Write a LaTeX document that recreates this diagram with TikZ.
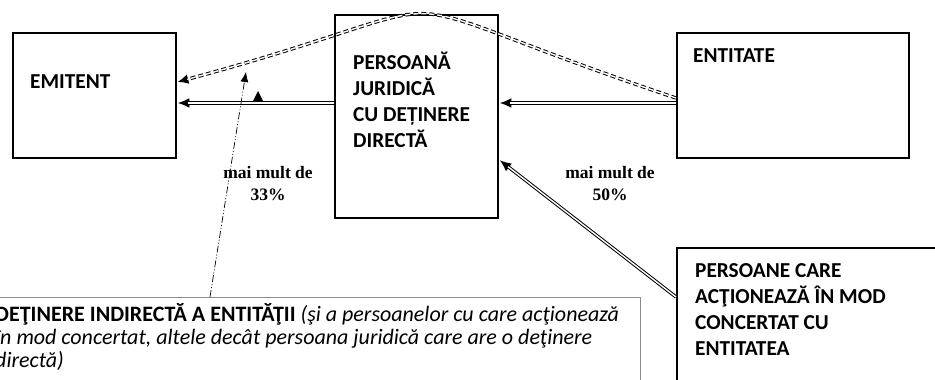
\documentclass[tikz,border=0pt]{standalone}
\usepackage{fontspec}
\setmainfont{Carlito}
\newfontfamily\serifb{Liberation Serif}
\usetikzlibrary{arrows.meta}
\begin{document}
\begin{tikzpicture}[x=1pt,y=-1pt,
  box/.style={draw, line width=2.4pt, fill=white, inner sep=0pt, anchor=north west},
  infobox/.style={draw=black!45, line width=1.4pt, fill=white, inner sep=0pt, anchor=north west},
  boxtext/.style={font=\fontsize{21.3}{25.7}\selectfont\bfseries, align=left, inner sep=0pt, anchor=base west},
  infotext/.style={font=\fontsize{22}{23}\selectfont, align=left, inner sep=0pt, anchor=base west},
  pct/.style={font=\serifb\bfseries\fontsize{17.5}{22}\selectfont, align=center, inner sep=0pt, anchor=base},
  dbl/.style={draw, line width=3.4pt, -{Latex[length=12pt,width=10pt]},
    postaction={draw=white, line width=1.4pt, -, shorten >=11pt}},
  dbldash/.style={draw, line width=3.4pt, dash pattern=on 5pt off 3pt, -{Latex[length=11pt,width=10pt]},
    postaction={draw=white, line width=1.4pt, -, shorten >=10pt}},
  ddot/.style={draw, line width=0.7pt, dash pattern=on 7pt off 2pt on 1pt off 2pt on 1pt off 2pt, -{Latex[length=10pt,width=8pt]}}
]
\useasboundingbox (0,0) rectangle (935,380);
\clip (0,0) rectangle (935,380);

% boxes
\node[box, minimum width=163pt, minimum height=125pt] (emit) at (12,32) {};
\node[box, minimum width=163pt, minimum height=203pt] (pjd) at (334,14) {};
\node[box, minimum width=232pt, minimum height=125pt] (ent) at (676,32) {};
\node[box, minimum width=280pt, minimum height=160pt] (pers) at (676,247) {};
\node[infobox, minimum width=680pt, minimum height=120pt] (info) at (-40,297) {};

% texts (base anchor = last line baseline)
\node[boxtext] (emitT) at (30,88) {EMITENT};
\node[boxtext] (pjdT) at (353,147) {PERSOANĂ\\JURIDICĂ\\CU DEȚINERE\\DIRECTĂ};
\node[boxtext] (entT) at (693,62) {ENTITATE};
\node[boxtext] (persT) at (695,355) {PERSOANE CARE\\ACŢIONEAZĂ ÎN MOD\\CONCERTAT CU\\ENTITATEA};
\node[infotext] (infoT) at (-5,367) {\textbf{DEŢINERE INDIRECTĂ A ENTITĂŢII} \textit{(şi a persoanelor cu care acţionează}\\\textit{în mod concertat, altele decât persoana juridică care are o deţinere}\\\textit{directă)}};

\node[pct] (l33) at (268,200) {mai mult de\\33\%};
\node[pct] (l50) at (610,200) {mai mult de\\50\%};

% connectors
\coordinate (ya) at (0,103);
\coordinate (yc) at (0,297);
\coordinate (yc2) at (0,160);
\coordinate (yd) at (0,98);
\coordinate (ye) at (0,82);
\draw[dbl] (pjd.west|-ya) -- (emit.east|-ya);
\draw[dbl] (ent.west|-ya) -- (pjd.east|-ya);
\draw[dbl] (pers.west|-yc) -- (pjd.east|-yc2);
\draw[dbldash] (ent.west|-yd) .. controls (337,-15.6) and (507,-7) .. (emit.east|-ye);
\coordinate (indS) at (210,297);
\coordinate (indE) at (246,72);
\draw[ddot] (indS) -- (indE);
\fill (253,101) -- (263,101) -- (258,91) -- cycle;
\end{tikzpicture}
\end{document}
